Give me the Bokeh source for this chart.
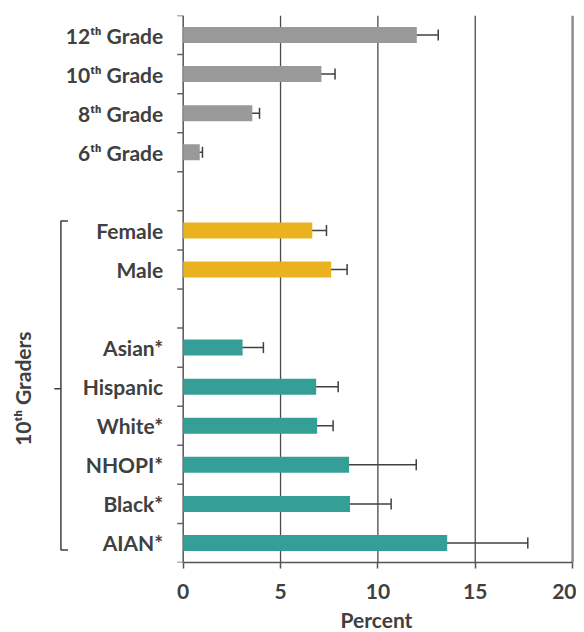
import math
from bokeh.plotting import figure
from bokeh.models import ColumnDataSource, Range1d, FixedTicker, Whisker, TeeHead, Title
from bokeh.core.properties import value
from bokeh.embed import file_html
from bokeh.resources import INLINE

# ---------------- data ----------------
grade_labels = ["12ᵗʰ Grade", "10ᵗʰ Grade", "8ᵗʰ Grade", "6ᵗʰ Grade"]
grade_values = [12.0, 7.1, 3.55, 0.85]
grade_lower = [10.95, 6.42, 3.18, 0.63]
grade_upper = [13.1, 7.8, 3.92, 0.99]

sex_labels = ["Female", "Male"]
sex_values = [6.63, 7.6]
sex_lower = [5.85, 6.74]
sex_upper = [7.36, 8.42]

race_labels = ["Asian*", "Hispanic", "White*", "NHOPI*", "Black*", "AIAN*"]
race_values = [3.05, 6.83, 6.88, 8.52, 8.57, 13.56]
race_lower = [1.92, 5.77, 6.02, 5.12, 6.42, 9.38]
race_upper = [4.12, 7.96, 7.7, 11.97, 10.68, 17.7]

group_label = "10ᵗʰ Graders"
x_ticks = [0, 5, 10, 15, 20]
x_title = "Percent"

GREY = "#999999"
GOLD = "#EAB21F"
TEAL = "#349E97"
TXT = "#404040"
FONT = "Lato"
FS = "21px"

# ------------- slot positions (one blank slot between groups) -------------
groups = [
    (grade_labels, grade_values, grade_lower, grade_upper, GREY),
    (sex_labels, sex_values, sex_lower, sex_upper, GOLD),
    (race_labels, race_values, race_lower, race_upper, TEAL),
]
rows = dict(y=[], v=[], lo=[], hi=[], c=[], lab=[])
slot = 0
group_slots = []
for labs, vals, los, his, col in groups:
    start = slot
    for l, v, lo, hi in zip(labs, vals, los, his):
        rows["y"].append(slot + 0.5)
        rows["v"].append(v)
        rows["lo"].append(lo)
        rows["hi"].append(hi)
        rows["c"].append(col)
        rows["lab"].append(l)
        slot += 1
    group_slots.append((start, slot))
    slot += 1
n_slots = slot - 1
src = ColumnDataSource(rows)

# ---------------- figure ----------------
p = figure(
    output_backend="svg", toolbar_location=None,
    frame_width=565, frame_height=547,
    min_border_left=10, min_border_right=1, min_border_top=15, min_border_bottom=0,
    x_range=Range1d(-8.87, 20.15), y_range=Range1d(n_slots, 0),
    y_axis_location=None,
)
p.outline_line_color = None
p.grid.visible = False
p.background_fill_color = "white"
p.border_fill_color = "white"

# grid lines
p.segment(x0=x_ticks[1:-1], x1=x_ticks[1:-1], y0=0, y1=n_slots, line_color="#4a4a4a", line_width=1.3)
p.segment(x0=[x_ticks[-1]], x1=[x_ticks[-1]], y0=0, y1=n_slots, line_color="#8c8c8c", line_width=2.5)
p.segment(x0=[x_ticks[0]], x1=[x_ticks[0]], y0=0, y1=n_slots, line_color="#555555", line_width=1.5)
# y ticks at slot boundaries
bounds = list(range(0, n_slots + 1))
p.segment(x0=[0] * len(bounds), x1=[-0.31] * len(bounds), y0=bounds, y1=bounds, line_color="#666666", line_width=1.5)

# bars
p.hbar(y="y", right="v", left=0, height=0.41, fill_color="c", line_color=None, source=src)

# error bars
w = Whisker(source=src, base="y", lower="lo", upper="hi", dimension="width",
            line_color=TXT, line_width=1.5,
            upper_head=TeeHead(size=11, line_color=TXT, line_width=1.5),
            lower_head=TeeHead(size=11, line_color=TXT, line_width=1.5))
p.add_layout(w)

# category labels
p.text(x=0, y="y", text="lab", source=src, x_offset=-20, text_align="right", text_baseline="middle",
       text_font=value(FONT), text_font_style="bold", text_font_size=FS, text_color=TXT)

# bracket around the 10th grader sub-groups
top = group_slots[1][0] + 0.26
bot = group_slots[2][1] - 0.32
mid = (group_slots[1][0] + group_slots[2][1]) / 2 + 0.05
bx = -6.28
p.line(x=[bx + 0.36, bx, bx, bx + 0.36], y=[top, top, bot, bot], line_color=TXT, line_width=1.5)
p.line(x=[bx, bx - 0.34], y=[mid, mid], line_color=TXT, line_width=1.5)
p.text(x=[-8.25], y=[mid], text=[group_label], angle=math.pi / 2, text_align="center", text_baseline="middle",
       text_font=value(FONT), text_font_style="bold", text_font_size=FS, text_color=TXT)

# x axis
ax = p.xaxis[0]
ax.bounds = (x_ticks[0], x_ticks[-1])
ax.ticker = FixedTicker(ticks=x_ticks)
ax.axis_line_color = "#555555"
ax.axis_line_width = 1.5
ax.major_tick_line_color = "#555555"
ax.major_tick_line_width = 1.5
ax.major_tick_out = 6
ax.major_tick_in = 0
ax.minor_tick_line_color = None
ax.major_label_standoff = 15
ax.major_label_text_font = FONT
ax.major_label_text_font_style = "bold"
ax.major_label_text_font_size = FS
ax.major_label_text_color = TXT

# axis title, shifted to sit centred under the 0-20 scale
p.add_layout(Title(text=x_title, align="left", offset=330, standoff=7,
                   text_font=FONT, text_font_style="bold", text_font_size=FS, text_color=TXT), "below")

open("out.html", "w").write(file_html(p, INLINE))
